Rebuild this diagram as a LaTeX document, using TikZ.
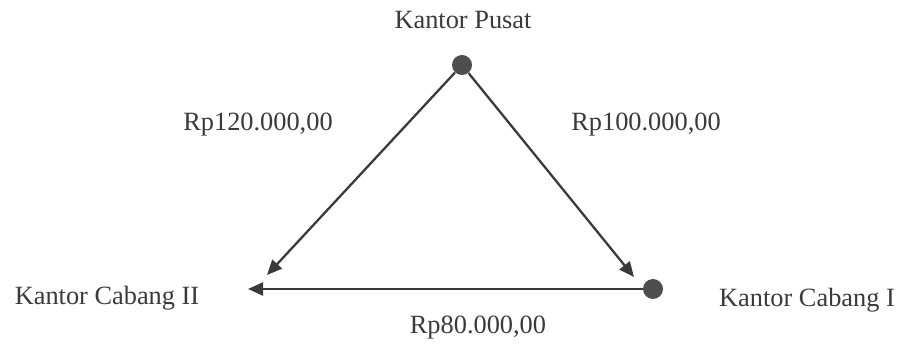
\documentclass[tikz,border=0pt]{standalone}
\usepackage{fontspec}
\setmainfont{Liberation Serif}
\usepackage{tikz}
\usetikzlibrary{arrows.meta, positioning}

\definecolor{ink}{HTML}{3A3A3A}

\begin{document}
\begin{tikzpicture}[
    office/.style={text=ink, font=\fontsize{15}{18}\selectfont, inner sep=1pt},
    amount/.style={text=ink, font=\fontsize{15}{18}\selectfont, inner sep=1pt},
    hub/.style={circle, fill=ink!90, minimum size=0.4cm, inner sep=0pt},
    flow/.style={-{Triangle[length=3mm, width=2.6mm]}, ink, line width=1.3pt},
]
\useasboundingbox (0,0) rectangle (18.08,6.96);
\node[hub] (pusat) at (9.24,5.66) {};
\node[hub] (cabang1) at (13.06,1.18) {};
\coordinate (tipA) at (5.34,1.46);
\coordinate (tipB) at (12.68,1.42);
\coordinate (tipC) at (4.96,1.18);
\node[office] (lpusat) at (9.26,6.56) {Kantor Pusat};
\node[office] (lcab2) at (2.14,1.0) {Kantor Cabang II};
\node[office] (lcab1) at (16.14,0.96) {Kantor Cabang I};
\node[amount] (m120) at (5.16,4.46) {Rp120.000,00};
\node[amount] (m100) at (12.92,4.46) {Rp100.000,00};
\node[amount] (m80) at (9.56,0.4) {Rp80.000,00};
\draw[flow] (pusat) -- (tipA);
\draw[flow] (pusat) -- (tipB);
\draw[flow] (cabang1) -- (tipC);
\end{tikzpicture}
\end{document}
